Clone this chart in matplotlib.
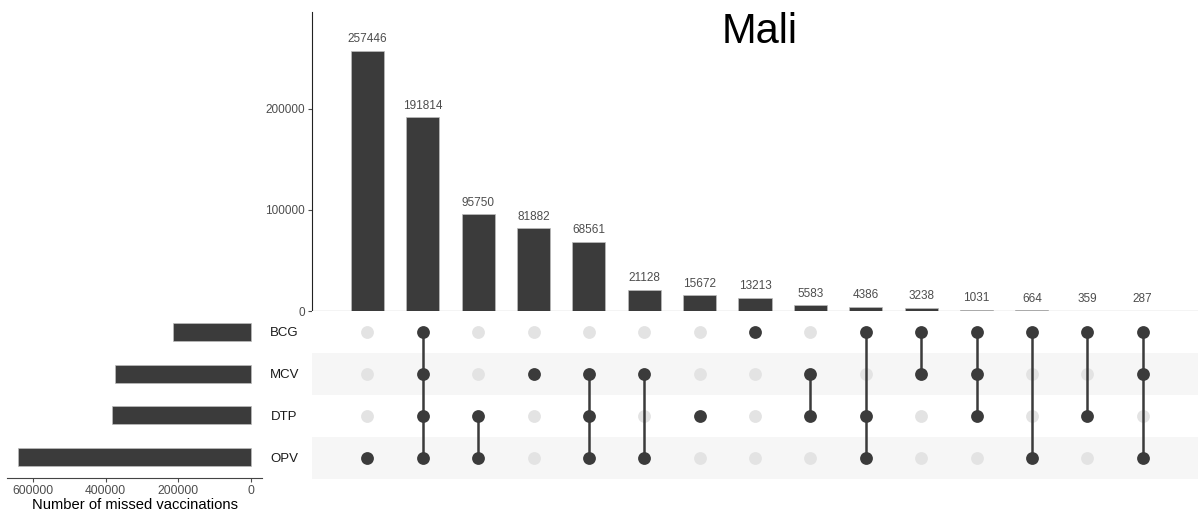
import numpy as np
import matplotlib.pyplot as plt

plt.rcParams['font.family'] = ['Liberation Sans', 'DejaVu Sans']

# vaccines (rows of the matrix, top to bottom)
sets = ['BCG', 'MCV', 'DTP', 'OPV']

# intersections, in the order shown
combos = [
    ['OPV'],
    ['BCG', 'MCV', 'DTP', 'OPV'],
    ['DTP', 'OPV'],
    ['MCV'],
    ['MCV', 'DTP', 'OPV'],
    ['MCV', 'OPV'],
    ['DTP'],
    ['BCG'],
    ['MCV', 'DTP'],
    ['BCG', 'DTP', 'OPV'],
    ['BCG', 'MCV'],
    ['BCG', 'MCV', 'DTP'],
    ['BCG', 'OPV'],
    ['BCG', 'DTP'],
    ['BCG', 'MCV', 'OPV'],
]
counts = [257446, 191814, 95750, 81882, 68561, 21128, 15672, 13213,
          5583, 4386, 3238, 1031, 664, 359, 287]

# set sizes = total missed per vaccine
set_sizes = [sum(c for c, m in zip(counts, combos) if s in m) for s in sets]

dark = '#3b3b3b'
light = '#e3e3e3'
band = '#f6f6f6'
tick_col = '#4d4d4d'

W, H = 1198, 514
fig = plt.figure(figsize=(W / 100, H / 100), dpi=100)


def box(l, t, r, b):
    return [l / W, 1 - b / H, (r - l) / W, (b - t) / H]


ax_bar = fig.add_axes(box(312, 12, 1198, 311))
ax_mat = fig.add_axes(box(312, 311, 1198, 479))
ax_set = fig.add_axes(box(7, 311, 262, 478))

xpos = np.arange(1, len(counts) + 1)

# intersection size bars
ax_bar.bar(xpos, counts, width=0.6, color=dark, edgecolor='#bdbdbd', linewidth=0.5)
for x, c in zip(xpos, counts):
    ax_bar.annotate(str(c), (x, c), xytext=(0, 4), textcoords='offset points',
                    ha='center', va='bottom', fontsize=8.5, color=tick_col)
ax_bar.set_xlim(0, 16)
ax_bar.set_ylim(0, 296000)
ax_bar.set_yticks([0, 100000, 200000])
ax_bar.set_yticklabels(['0', '100000', '200000'])
ax_bar.set_xticks([])
ax_bar.tick_params(axis='y', length=3, color=tick_col, labelcolor=tick_col, labelsize=8.5, pad=2)
for sp in ['top', 'right']:
    ax_bar.spines[sp].set_visible(False)
ax_bar.spines['left'].set_color('#222222')
ax_bar.spines['bottom'].set_color('#444444')

# matrix
rows = np.arange(len(sets))
for i in rows:
    if i % 2 == 1:
        ax_mat.axhspan(i - 0.5, i + 0.5, color=band, zorder=0, lw=0)
for x, m in zip(xpos, combos):
    on = [i for i, s in enumerate(sets) if s in m]
    off = [i for i, s in enumerate(sets) if s not in m]
    ax_mat.scatter([x] * len(off), off, s=85, color=light, zorder=2, lw=0)
    if len(on) > 1:
        ax_mat.plot([x, x], [min(on), max(on)], color=dark, lw=1.8, zorder=3)
    ax_mat.scatter([x] * len(on), on, s=85, color=dark, zorder=4, lw=0)
ax_mat.set_xlim(0, 16)
ax_mat.set_ylim(len(sets) - 0.5, -0.5)
ax_mat.set_xticks([])
ax_mat.set_yticks(rows)
ax_mat.set_yticklabels(sets)
ax_mat.tick_params(axis='y', length=0, pad=20, labelsize=9.5, labelcolor='#1a1a1a')
for lab in ax_mat.get_yticklabels():
    lab.set_ha('center')
for sp in ax_mat.spines.values():
    sp.set_visible(False)

# set sizes
ax_set.barh(rows, set_sizes, height=0.43, color=dark, edgecolor='#bdbdbd', linewidth=0.5)
ax_set.set_ylim(len(sets) - 0.5, -0.5)
ax_set.set_xlim(671560, -30275)
ax_set.set_xticks([600000, 400000, 200000, 0])
ax_set.set_xticklabels(['600000', '400000', '200000', '0'])
ax_set.set_yticks([])
ax_set.tick_params(axis='x', length=3, color=tick_col, labelcolor=tick_col, labelsize=8.7, pad=2)
ax_set.set_xlabel('Number of missed vaccinations', fontsize=10.6, labelpad=1)
for sp in ['top', 'right', 'left']:
    ax_set.spines[sp].set_visible(False)
ax_set.spines['bottom'].set_color('#444444')

fig.text(760 / W, 1 - 32 / H, 'Mali', fontsize=30, ha='center', va='center')

fig.savefig('out.png', dpi=100)
